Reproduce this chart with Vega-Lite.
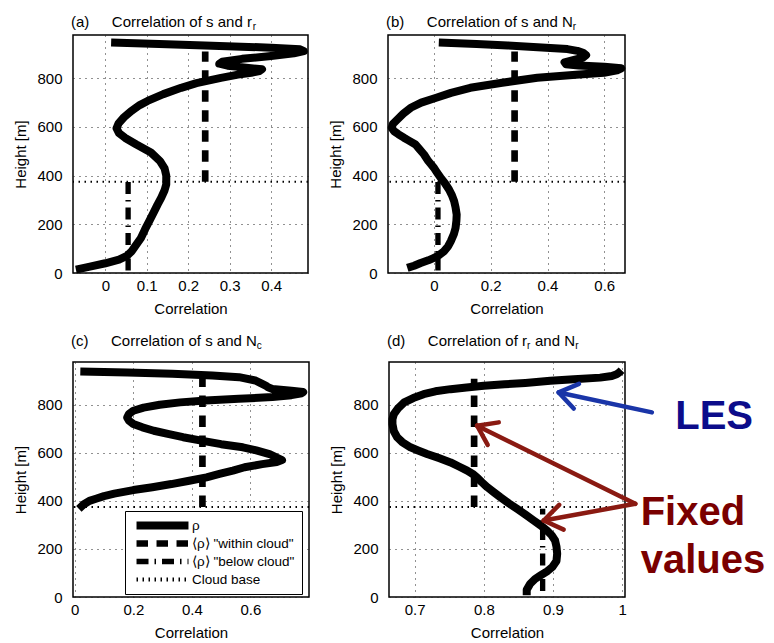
{
  "$schema": "https://vega.github.io/schema/vega-lite/v6.json",
  "padding": {"left": 13, "top": 14, "right": 0, "bottom": 0},
  "config": {
    "font": "Liberation Sans",
    "view": {"stroke": "black", "strokeWidth": 1.5},
    "axis": {"labelFont": "Liberation Sans", "titleFont": "Liberation Sans", "labelFontSize": 15, "titleFontSize": 15, "titleFontWeight": "normal", "labelColor": "black", "titleColor": "black", "domain": false, "ticks": false, "grid": true, "gridColor": "#222", "gridDash": [1, 5], "gridWidth": 1, "gridOpacity": 1},
    "axisX": {"labelPadding": 5, "titlePadding": 8},
    "axisY": {"labelPadding": 11, "titlePadding": 8},
    "title": {"font": "Liberation Sans", "fontSize": 15, "fontWeight": "normal", "anchor": "start", "frame": "group", "dx": -2, "color": "black", "subtitleFont": "Liberation Sans", "subtitleFontSize": 10, "subtitleColor": "black", "subtitlePadding": -8, "offset": 3}
  },
  "datasets": {
    "profiles": [
      {"panel":"a","h":14,"rho":-0.071},{"panel":"a","h":25,"rho":-0.04},{"panel":"a","h":40,"rho":0.0},{"panel":"a","h":55,"rho":0.033},{"panel":"a","h":70,"rho":0.052},{"panel":"a","h":90,"rho":0.064},{"panel":"a","h":110,"rho":0.072},{"panel":"a","h":144,"rho":0.086},{"panel":"a","h":180,"rho":0.096},{"panel":"a","h":213,"rho":0.106},{"panel":"a","h":250,"rho":0.117},{"panel":"a","h":281,"rho":0.126},{"panel":"a","h":310,"rho":0.135},{"panel":"a","h":340,"rho":0.143},{"panel":"a","h":364,"rho":0.147},{"panel":"a","h":400,"rho":0.147},{"panel":"a","h":430,"rho":0.143},{"panel":"a","h":460,"rho":0.132},{"panel":"a","h":495,"rho":0.11},{"panel":"a","h":528,"rho":0.075},{"panel":"a","h":555,"rho":0.048},{"panel":"a","h":575,"rho":0.033},{"panel":"a","h":595,"rho":0.027},{"panel":"a","h":615,"rho":0.032},{"panel":"a","h":640,"rho":0.045},{"panel":"a","h":665,"rho":0.062},{"panel":"a","h":690,"rho":0.083},{"panel":"a","h":707,"rho":0.102},{"panel":"a","h":735,"rho":0.14},{"panel":"a","h":761,"rho":0.183},{"panel":"a","h":780,"rho":0.22},{"panel":"a","h":802,"rho":0.279},{"panel":"a","h":815,"rho":0.32},{"panel":"a","h":823,"rho":0.352},{"panel":"a","h":830,"rho":0.372},{"panel":"a","h":837,"rho":0.378},{"panel":"a","h":844,"rho":0.34},{"panel":"a","h":852,"rho":0.295},{"panel":"a","h":860,"rho":0.275},{"panel":"a","h":868,"rho":0.282},{"panel":"a","h":880,"rho":0.33},{"panel":"a","h":892,"rho":0.4},{"panel":"a","h":903,"rho":0.455},{"panel":"a","h":912,"rho":0.479},{"panel":"a","h":919,"rho":0.47},{"panel":"a","h":926,"rho":0.4},{"panel":"a","h":935,"rho":0.24},{"panel":"a","h":941,"rho":0.13},{"panel":"a","h":947,"rho":0.014},
      {"panel":"b","h":21,"rho":-0.094},{"panel":"b","h":30,"rho":-0.07},{"panel":"b","h":41,"rho":-0.047},{"panel":"b","h":52,"rho":-0.02},{"panel":"b","h":62,"rho":0.0},{"panel":"b","h":75,"rho":0.02},{"panel":"b","h":89,"rho":0.035},{"panel":"b","h":110,"rho":0.05},{"panel":"b","h":130,"rho":0.059},{"panel":"b","h":160,"rho":0.07},{"panel":"b","h":185,"rho":0.076},{"panel":"b","h":215,"rho":0.079},{"panel":"b","h":240,"rho":0.08},{"panel":"b","h":270,"rho":0.076},{"panel":"b","h":295,"rho":0.071},{"panel":"b","h":320,"rho":0.063},{"panel":"b","h":343,"rho":0.053},{"panel":"b","h":370,"rho":0.038},{"panel":"b","h":391,"rho":0.024},{"panel":"b","h":410,"rho":0.012},{"panel":"b","h":432,"rho":0.0},{"panel":"b","h":460,"rho":-0.02},{"panel":"b","h":487,"rho":-0.035},{"panel":"b","h":510,"rho":-0.052},{"panel":"b","h":528,"rho":-0.065},{"panel":"b","h":545,"rho":-0.09},{"panel":"b","h":556,"rho":-0.106},{"panel":"b","h":570,"rho":-0.125},{"panel":"b","h":583,"rho":-0.141},{"panel":"b","h":597,"rho":-0.149},{"panel":"b","h":612,"rho":-0.145},{"panel":"b","h":631,"rho":-0.129},{"panel":"b","h":655,"rho":-0.108},{"panel":"b","h":679,"rho":-0.082},{"panel":"b","h":700,"rho":-0.045},{"panel":"b","h":720,"rho":0.008},{"panel":"b","h":740,"rho":0.06},{"panel":"b","h":761,"rho":0.128},{"panel":"b","h":782,"rho":0.24},{"panel":"b","h":802,"rho":0.364},{"panel":"b","h":815,"rho":0.5},{"panel":"b","h":823,"rho":0.599},{"panel":"b","h":833,"rho":0.645},{"panel":"b","h":841,"rho":0.66},{"panel":"b","h":848,"rho":0.6},{"panel":"b","h":853,"rho":0.51},{"panel":"b","h":858,"rho":0.465},{"panel":"b","h":866,"rho":0.46},{"panel":"b","h":875,"rho":0.49},{"panel":"b","h":885,"rho":0.525},{"panel":"b","h":895,"rho":0.536},{"panel":"b","h":905,"rho":0.525},{"panel":"b","h":913,"rho":0.505},{"panel":"b","h":920,"rho":0.47},{"panel":"b","h":927,"rho":0.38},{"panel":"b","h":935,"rho":0.26},{"panel":"b","h":941,"rho":0.15},{"panel":"b","h":947,"rho":0.017},
      {"panel":"c","h":367,"rho":0.014},{"panel":"c","h":385,"rho":0.03},{"panel":"c","h":400,"rho":0.05},{"panel":"c","h":410,"rho":0.075},{"panel":"c","h":420,"rho":0.1},{"panel":"c","h":430,"rho":0.135},{"panel":"c","h":445,"rho":0.2},{"panel":"c","h":457,"rho":0.265},{"panel":"c","h":470,"rho":0.33},{"panel":"c","h":484,"rho":0.391},{"panel":"c","h":498,"rho":0.45},{"panel":"c","h":512,"rho":0.494},{"panel":"c","h":526,"rho":0.54},{"panel":"c","h":540,"rho":0.58},{"panel":"c","h":553,"rho":0.64},{"panel":"c","h":562,"rho":0.69},{"panel":"c","h":570,"rho":0.708},{"panel":"c","h":580,"rho":0.69},{"panel":"c","h":595,"rho":0.665},{"panel":"c","h":610,"rho":0.62},{"panel":"c","h":623,"rho":0.574},{"panel":"c","h":636,"rho":0.5},{"panel":"c","h":650,"rho":0.437},{"panel":"c","h":665,"rho":0.37},{"panel":"c","h":678,"rho":0.322},{"panel":"c","h":692,"rho":0.27},{"panel":"c","h":706,"rho":0.231},{"panel":"c","h":720,"rho":0.2},{"panel":"c","h":734,"rho":0.185},{"panel":"c","h":747,"rho":0.179},{"panel":"c","h":762,"rho":0.185},{"panel":"c","h":775,"rho":0.2},{"panel":"c","h":788,"rho":0.235},{"panel":"c","h":800,"rho":0.29},{"panel":"c","h":810,"rho":0.36},{"panel":"c","h":818,"rho":0.447},{"panel":"c","h":825,"rho":0.56},{"panel":"c","h":832,"rho":0.675},{"panel":"c","h":840,"rho":0.74},{"panel":"c","h":848,"rho":0.775},{"panel":"c","h":853,"rho":0.78},{"panel":"c","h":858,"rho":0.74},{"panel":"c","h":866,"rho":0.675},{"panel":"c","h":873,"rho":0.66},{"panel":"c","h":880,"rho":0.652},{"panel":"c","h":890,"rho":0.635},{"panel":"c","h":901,"rho":0.617},{"panel":"c","h":915,"rho":0.561},{"panel":"c","h":922,"rho":0.47},{"panel":"c","h":929,"rho":0.333},{"panel":"c","h":934,"rho":0.18},{"panel":"c","h":938,"rho":0.019},
      {"panel":"d","h":7,"rho":0.862},{"panel":"d","h":30,"rho":0.862},{"panel":"d","h":55,"rho":0.867},{"panel":"d","h":75,"rho":0.874},{"panel":"d","h":90,"rho":0.882},{"panel":"d","h":108,"rho":0.892},{"panel":"d","h":125,"rho":0.899},{"panel":"d","h":150,"rho":0.905},{"panel":"d","h":180,"rho":0.906},{"panel":"d","h":210,"rho":0.905},{"panel":"d","h":235,"rho":0.903},{"panel":"d","h":257,"rho":0.898},{"panel":"d","h":277,"rho":0.891},{"panel":"d","h":298,"rho":0.882},{"panel":"d","h":318,"rho":0.872},{"panel":"d","h":343,"rho":0.86},{"panel":"d","h":367,"rho":0.848},{"panel":"d","h":390,"rho":0.836},{"panel":"d","h":415,"rho":0.824},{"panel":"d","h":437,"rho":0.814},{"panel":"d","h":457,"rho":0.805},{"panel":"d","h":478,"rho":0.797},{"panel":"d","h":498,"rho":0.79},{"panel":"d","h":512,"rho":0.784},{"panel":"d","h":526,"rho":0.776},{"panel":"d","h":543,"rho":0.764},{"panel":"d","h":560,"rho":0.752},{"panel":"d","h":578,"rho":0.735},{"panel":"d","h":595,"rho":0.718},{"panel":"d","h":610,"rho":0.705},{"panel":"d","h":623,"rho":0.694},{"panel":"d","h":645,"rho":0.682},{"panel":"d","h":664,"rho":0.675},{"panel":"d","h":690,"rho":0.67},{"panel":"d","h":720,"rho":0.668},{"panel":"d","h":740,"rho":0.668},{"panel":"d","h":761,"rho":0.67},{"panel":"d","h":785,"rho":0.676},{"panel":"d","h":810,"rho":0.685},{"panel":"d","h":828,"rho":0.698},{"panel":"d","h":844,"rho":0.713},{"panel":"d","h":856,"rho":0.73},{"panel":"d","h":865,"rho":0.752},{"panel":"d","h":872,"rho":0.775},{"panel":"d","h":879,"rho":0.8},{"panel":"d","h":885,"rho":0.83},{"panel":"d","h":891,"rho":0.86},{"panel":"d","h":900,"rho":0.896},{"panel":"d","h":906,"rho":0.93},{"panel":"d","h":913,"rho":0.968},{"panel":"d","h":920,"rho":0.985},{"panel":"d","h":927,"rho":0.992},{"panel":"d","h":935,"rho":0.996},{"panel":"d","h":944,"rho":0.999}
    ],
    "fixed": [
      {"panel":"a","kind":"⟨ρ⟩ \"within cloud\"","rho":0.241,"h0":375,"h1":910},
      {"panel":"a","kind":"⟨ρ⟩ \"below cloud\"","rho":0.055,"h0":10,"h1":375},
      {"panel":"b","kind":"⟨ρ⟩ \"within cloud\"","rho":0.284,"h0":375,"h1":910},
      {"panel":"b","kind":"⟨ρ⟩ \"below cloud\"","rho":0.014,"h0":10,"h1":375},
      {"panel":"c","kind":"⟨ρ⟩ \"within cloud\"","rho":0.436,"h0":375,"h1":910},
      {"panel":"d","kind":"⟨ρ⟩ \"within cloud\"","rho":0.786,"h0":375,"h1":908},
      {"panel":"d","kind":"⟨ρ⟩ \"below cloud\"","rho":0.885,"h0":25,"h1":367}
    ],
    "cloudbase": [
      {"panel":"a","h":375},{"panel":"b","h":375},{"panel":"c","h":375},{"panel":"d","h":375}
    ],
    "notes": [
      {"group":"LES","label":"LES","rho":1.0766,"h":700},
      {"group":"Fixed","label":"Fixed\nvalues","rho":1.0266,"h":298}
    ],
    "arrows": [
      {"group":"LES","rho":1.0429,"h":768.3,"rho2":0.9082,"h2":851.3},
      {"group":"LES","rho":0.9082,"h":851.3,"rho2":0.9299,"h2":784.5},
      {"group":"LES","rho":0.9082,"h":851.3,"rho2":0.9375,"h2":887.0},
      {"group":"Fixed","rho":1.0189,"h":387.9,"rho2":0.7903,"h2":713.0},
      {"group":"Fixed","rho":0.7903,"h":713.0,"rho2":0.8056,"h2":632.9},
      {"group":"Fixed","rho":0.7903,"h":713.0,"rho2":0.8216,"h2":726.7},
      {"group":"Fixed","rho":1.0189,"h":387.9,"rho2":0.8866,"h2":318.5},
      {"group":"Fixed","rho":0.8866,"h":318.5,"rho2":0.9154,"h2":280.3},
      {"group":"Fixed","rho":0.8866,"h":318.5,"rho2":0.9089,"h2":383.7}
    ]
  },
  "resolve": {"scale": {"strokeDash": "independent", "strokeWidth": "independent"}, "legend": {"strokeDash": "independent", "strokeWidth": "independent"}},
  "spacing": 16,
  "vconcat": [
    {
      "spacing": 18,
      "resolve": {"scale": {"strokeDash": "independent", "strokeWidth": "independent"}, "legend": {"strokeDash": "independent", "strokeWidth": "independent"}},
      "hconcat": [
        {
          "title": {"text": "(a)\u2003\u2002Correlation of s and r", "subtitle": "\u200b\u2003\u2003\u2003\u2003\u2003\u2003\u2003\u2003\u2003\u2003\u2003\u2003\u2003\u2003\u2003\u2003\u2003\u2003\u2006r", "offset": 3},
          "width": 235, "height": 238,
          "layer": [
            {"data": {"name": "cloudbase"}, "transform": [{"filter": "datum.panel === 'a'"}], "mark": {"type": "rule", "color": "black", "strokeWidth": 2, "strokeDash": [1.5, 4.5]}, "encoding": {"y": {"field": "h", "type": "quantitative"}}},
            {"data": {"name": "fixed"}, "transform": [{"filter": "datum.panel === 'a'"}], "mark": {"type": "rule", "color": "black"},
             "encoding": {"x": {"field": "rho", "type": "quantitative"}, "y": {"field": "h0", "type": "quantitative"}, "y2": {"field": "h1"},
               "strokeDash": {"field": "kind", "type": "ordinal", "scale": {"domain": ["ρ", "⟨ρ⟩ \"within cloud\"", "⟨ρ⟩ \"below cloud\"", "Cloud base"], "range": [[1, 0], [11.5, 8.5], [12, 6, 1.5, 6], [1.5, 4.5]]}, "legend": null},
               "strokeWidth": {"field": "kind", "type": "ordinal", "scale": {"domain": ["ρ", "⟨ρ⟩ \"within cloud\"", "⟨ρ⟩ \"below cloud\"", "Cloud base"], "range": [8, 4, 4, 2]}, "legend": null}}},
            {"data": {"name": "profiles"}, "transform": [{"filter": "datum.panel === 'a'"}], "mark": {"type": "line", "color": "black", "strokeWidth": 8, "strokeJoin": "round", "strokeCap": "butt"},
             "encoding": {
               "x": {"field": "rho", "type": "quantitative", "scale": {"domain": [-0.078, 0.489], "nice": false, "zero": false}, "axis": {"values": [0, 0.1, 0.2, 0.3, 0.4], "format": ".1~f", "title": "Correlation"}},
               "y": {"field": "h", "type": "quantitative", "scale": {"domain": [0, 978], "nice": false}, "axis": {"values": [0, 200, 400, 600, 800], "title": "Height [m]"}},
               "order": {"field": "h", "type": "quantitative"}}}
          ]
        },
        {
          "title": {"text": "(b)\u2003\u2002Correlation of s and N", "subtitle": "\u200b\u2003\u2003\u2003\u2003\u2003\u2003\u2003\u2003\u2003\u2003\u2003\u2003\u2003\u2003\u2003\u2003\u2003\u2003\u2004\u2004r", "offset": 3},
          "width": 237, "height": 238,
          "layer": [
            {"data": {"name": "cloudbase"}, "transform": [{"filter": "datum.panel === 'b'"}], "mark": {"type": "rule", "color": "black", "strokeWidth": 2, "strokeDash": [1.5, 4.5]}, "encoding": {"y": {"field": "h", "type": "quantitative"}}},
            {"data": {"name": "fixed"}, "transform": [{"filter": "datum.panel === 'b'"}], "mark": {"type": "rule", "color": "black"},
             "encoding": {"x": {"field": "rho", "type": "quantitative"}, "y": {"field": "h0", "type": "quantitative"}, "y2": {"field": "h1"},
               "strokeDash": {"field": "kind", "type": "ordinal", "scale": {"domain": ["ρ", "⟨ρ⟩ \"within cloud\"", "⟨ρ⟩ \"below cloud\"", "Cloud base"], "range": [[1, 0], [11.5, 8.5], [12, 6, 1.5, 6], [1.5, 4.5]]}, "legend": null},
               "strokeWidth": {"field": "kind", "type": "ordinal", "scale": {"domain": ["ρ", "⟨ρ⟩ \"within cloud\"", "⟨ρ⟩ \"below cloud\"", "Cloud base"], "range": [8, 4, 4, 2]}, "legend": null}}},
            {"data": {"name": "profiles"}, "transform": [{"filter": "datum.panel === 'b'"}], "mark": {"type": "line", "color": "black", "strokeWidth": 8, "strokeJoin": "round", "strokeCap": "butt"},
             "encoding": {
               "x": {"field": "rho", "type": "quantitative", "scale": {"domain": [-0.162, 0.673], "nice": false, "zero": false}, "axis": {"values": [0, 0.2, 0.4, 0.6], "format": ".1~f", "title": "Correlation"}},
               "y": {"field": "h", "type": "quantitative", "scale": {"domain": [0, 978], "nice": false}, "axis": {"values": [0, 200, 400, 600, 800], "title": "Height [m]"}},
               "order": {"field": "h", "type": "quantitative"}}}
          ]
        }
      ]
    },
    {
      "spacing": 18,
      "resolve": {"scale": {"strokeDash": "independent", "strokeWidth": "independent"}, "legend": {"strokeDash": "independent", "strokeWidth": "independent"}},
      "hconcat": [
        {
          "title": {"text": "(c)\u2003\u2002Correlation of s and N", "subtitle": "\u200b\u2003\u2003\u2003\u2003\u2003\u2003\u2003\u2003\u2003\u2003\u2003\u2003\u2003\u2003\u2003\u2003\u2003\u2003\u2004\u2005c", "offset": 11},
          "width": 236, "height": 235,
          "layer": [
            {"data": {"name": "cloudbase"}, "transform": [{"filter": "datum.panel === 'c'"}], "mark": {"type": "rule", "color": "black", "strokeWidth": 2, "strokeDash": [1.5, 4.5]}, "encoding": {"y": {"field": "h", "type": "quantitative"}}},
            {"data": {"name": "fixed"}, "transform": [{"filter": "datum.panel === 'c'"}], "mark": {"type": "rule", "color": "black"},
             "encoding": {"x": {"field": "rho", "type": "quantitative"}, "y": {"field": "h0", "type": "quantitative"}, "y2": {"field": "h1"},
               "strokeDash": {"field": "kind", "type": "ordinal", "scale": {"domain": ["ρ", "⟨ρ⟩ \"within cloud\"", "⟨ρ⟩ \"below cloud\"", "Cloud base"], "range": [[1, 0], [11.5, 8.5], [12, 6, 1.5, 6], [1.5, 4.5]]},
                 "legend": {"orient": "none", "legendX": 52, "legendY": 149, "title": null, "symbolType": "M-5,0H5", "symbolSize": 108, "symbolOffset": 21, "labelOffset": 20, "padding": 7, "rowPadding": 3, "clipHeight": 15, "strokeColor": "black", "fillColor": "white", "labelFontSize": 13.5, "labelFont": "Liberation Sans", "labelColor": "black", "symbolStrokeColor": "black", "symbolFillColor": "transparent",
                   "encode": {"symbols": {"update": {"strokeWidth": {"signal": "datum.value === 'ρ' ? 8 : datum.value === 'Cloud base' ? 2 : 4"}}}}}},
               "strokeWidth": {"field": "kind", "type": "ordinal", "scale": {"domain": ["ρ", "⟨ρ⟩ \"within cloud\"", "⟨ρ⟩ \"below cloud\"", "Cloud base"], "range": [8, 4, 4, 2]}, "legend": null}}},
            {"data": {"name": "profiles"}, "transform": [{"filter": "datum.panel === 'c'"}], "mark": {"type": "line", "color": "black", "strokeWidth": 8, "strokeJoin": "round", "strokeCap": "butt"},
             "encoding": {
               "x": {"field": "rho", "type": "quantitative", "scale": {"domain": [-0.006, 0.8], "nice": false, "zero": false}, "axis": {"values": [0, 0.2, 0.4, 0.6], "format": ".1~f", "title": "Correlation"}},
               "y": {"field": "h", "type": "quantitative", "scale": {"domain": [0, 978], "nice": false}, "axis": {"values": [0, 200, 400, 600, 800], "title": "Height [m]"}},
               "order": {"field": "h", "type": "quantitative"}}}
          ]
        },
        {
          "title": {"text": "(d)\u2003\u2002Correlation of r\u2005 and N", "subtitle": "\u200b\u2003\u2003\u2003\u2003\u2003\u2003\u2003\u2003\u2003\u2003\u2003\u2003\u2003\u2003r\u2003\u2003\u2003\u2003\u2004\u2006r", "offset": 11},
          "width": 236, "height": 235,
          "layer": [
            {"data": {"name": "cloudbase"}, "transform": [{"filter": "datum.panel === 'd'"}], "mark": {"type": "rule", "color": "black", "strokeWidth": 2, "strokeDash": [1.5, 4.5]}, "encoding": {"y": {"field": "h", "type": "quantitative"}}},
            {"data": {"name": "fixed"}, "transform": [{"filter": "datum.panel === 'd'"}], "mark": {"type": "rule", "color": "black"},
             "encoding": {"x": {"field": "rho", "type": "quantitative"}, "y": {"field": "h0", "type": "quantitative"}, "y2": {"field": "h1"},
               "strokeDash": {"field": "kind", "type": "ordinal", "scale": {"domain": ["ρ", "⟨ρ⟩ \"within cloud\"", "⟨ρ⟩ \"below cloud\"", "Cloud base"], "range": [[1, 0], [11.5, 8.5], [12, 6, 1.5, 6], [1.5, 4.5]]}, "legend": null},
               "strokeWidth": {"field": "kind", "type": "ordinal", "scale": {"domain": ["ρ", "⟨ρ⟩ \"within cloud\"", "⟨ρ⟩ \"below cloud\"", "Cloud base"], "range": [8, 4, 4, 2]}, "legend": null}}},
            {"data": {"name": "profiles"}, "transform": [{"filter": "datum.panel === 'd'"}], "mark": {"type": "line", "color": "black", "strokeWidth": 8, "strokeJoin": "round", "strokeCap": "butt"},
             "encoding": {
               "x": {"field": "rho", "type": "quantitative", "scale": {"domain": [0.663, 1.004], "nice": false, "zero": false}, "axis": {"values": [0.7, 0.8, 0.9, 1], "format": ".1~f", "title": "Correlation"}},
               "y": {"field": "h", "type": "quantitative", "scale": {"domain": [0, 978], "nice": false}, "axis": {"values": [0, 200, 400, 600, 800], "title": "Height [m]"}},
               "order": {"field": "h", "type": "quantitative"}}},
            {"data": {"name": "arrows"}, "transform": [{"filter": "datum.group === 'LES'"}], "mark": {"type": "rule", "color": "#1a35a8", "strokeWidth": 4.5, "strokeCap": "round"},
             "encoding": {"x": {"field": "rho", "type": "quantitative"}, "y": {"field": "h", "type": "quantitative"}, "x2": {"field": "rho2"}, "y2": {"field": "h2"}}},
            {"data": {"name": "arrows"}, "transform": [{"filter": "datum.group === 'Fixed'"}], "mark": {"type": "rule", "color": "#8a1a12", "strokeWidth": 4.5, "strokeCap": "round"},
             "encoding": {"x": {"field": "rho", "type": "quantitative"}, "y": {"field": "h", "type": "quantitative"}, "x2": {"field": "rho2"}, "y2": {"field": "h2"}}},
            {"data": {"name": "notes"}, "transform": [{"filter": "datum.group === 'LES'"}], "mark": {"type": "text", "align": "left", "baseline": "alphabetic", "font": "Liberation Sans", "fontSize": 40, "fontWeight": "bold", "color": "#0c0c8a"},
             "encoding": {"x": {"field": "rho", "type": "quantitative"}, "y": {"field": "h", "type": "quantitative"}, "text": {"field": "label"}}},
            {"data": {"name": "notes"}, "transform": [{"filter": "datum.group === 'Fixed'"}], "mark": {"type": "text", "align": "left", "baseline": "alphabetic", "font": "Liberation Sans", "fontSize": 40, "fontWeight": "bold", "color": "#7a0000", "lineBreak": "\n", "lineHeight": 48},
             "encoding": {"x": {"field": "rho", "type": "quantitative"}, "y": {"field": "h", "type": "quantitative"}, "text": {"field": "label"}}}
          ]
        }
      ]
    }
  ]
}
